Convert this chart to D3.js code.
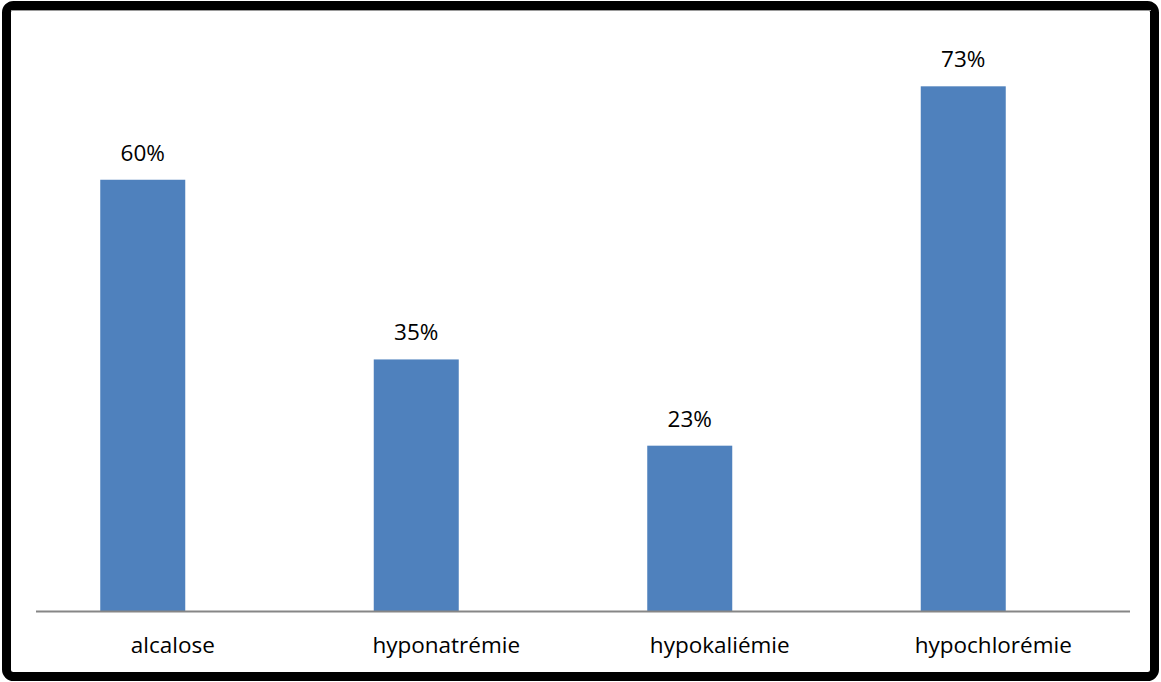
<!DOCTYPE html>
<html>
<head>
<meta charset="utf-8">
<script src="https://cdn.jsdelivr.net/npm/d3@7"></script>
<style>
  html, body { margin: 0; padding: 0; background: #fff; }
  svg { display: block; }
  text { font-family: "Open Sans", "Noto Sans", sans-serif; fill: #000; }
</style>
</head>
<body>
<svg id="chart" width="1161" height="682"></svg>
<script>
// Data
const categories = ["alcalose", "hyponatrémie", "hypokaliémie", "hypochlorémie"];
const values = [60, 35, 23, 73];
const valueLabels = ["60%", "35%", "23%", "73%"];
const yDomain = [0, 80];

const W = 1161, H = 682;
const svg = d3.select("#chart");

// Frame around the chart
svg.append("rect")
  .attr("x", 6.5).attr("y", 5.5)
  .attr("width", W - 13).attr("height", H - 11)
  .attr("rx", 7).attr("ry", 7)
  .attr("fill", "#fff")
  .attr("stroke", "#000")
  .attr("stroke-width", 9);
svg.append("line")
  .attr("x1", 11).attr("x2", 1151)
  .attr("y1", 10.5).attr("y2", 10.5)
  .attr("stroke", "#9a9a9a").attr("stroke-width", 1);

// Plot area
const plot = { left: 36, right: 1130, top: 36, bottom: 611 };

const x = d3.scaleBand()
  .domain(categories)
  .range([plot.left, plot.right]);

const y = d3.scaleLinear()
  .domain(yDomain)
  .range([plot.bottom, plot.top]);

const barWidth = 85;
const barShift = -30; // bars sit left of the category centre
const fontSize = 22.5;

const g = svg.append("g");

g.selectAll("rect.bar")
  .data(values)
  .join("rect")
  .attr("class", "bar")
  .attr("x", (d, i) => x(categories[i]) + x.bandwidth() / 2 + barShift - barWidth / 2)
  .attr("y", d => y(d))
  .attr("width", barWidth)
  .attr("height", d => y(0) - y(d))
  .attr("fill", "#4F81BD");

// Value labels above bars
g.selectAll("text.val")
  .data(values)
  .join("text")
  .attr("class", "val")
  .attr("x", (d, i) => x(categories[i]) + x.bandwidth() / 2 + barShift)
  .attr("y", d => y(d) - 19)
  .attr("text-anchor", "middle")
  .attr("font-size", fontSize)
  .text((d, i) => valueLabels[i]);

// Category axis
const xAxis = d3.axisBottom(x).tickSize(0).tickPadding(0);
const ax = svg.append("g")
  .attr("transform", `translate(0,${plot.bottom})`)
  .call(xAxis);
ax.select(".domain")
  .attr("d", `M${plot.left},0.5H${plot.right}`)
  .attr("stroke", "#868686")
  .attr("stroke-width", 2);
ax.selectAll(".tick text")
  .attr("y", 42)
  .attr("dy", 0)
  .attr("font-size", fontSize)
  .attr("font-family", "\"Open Sans\", \"Noto Sans\", sans-serif")
  .attr("fill", "#000");
</script>
</body>
</html>
